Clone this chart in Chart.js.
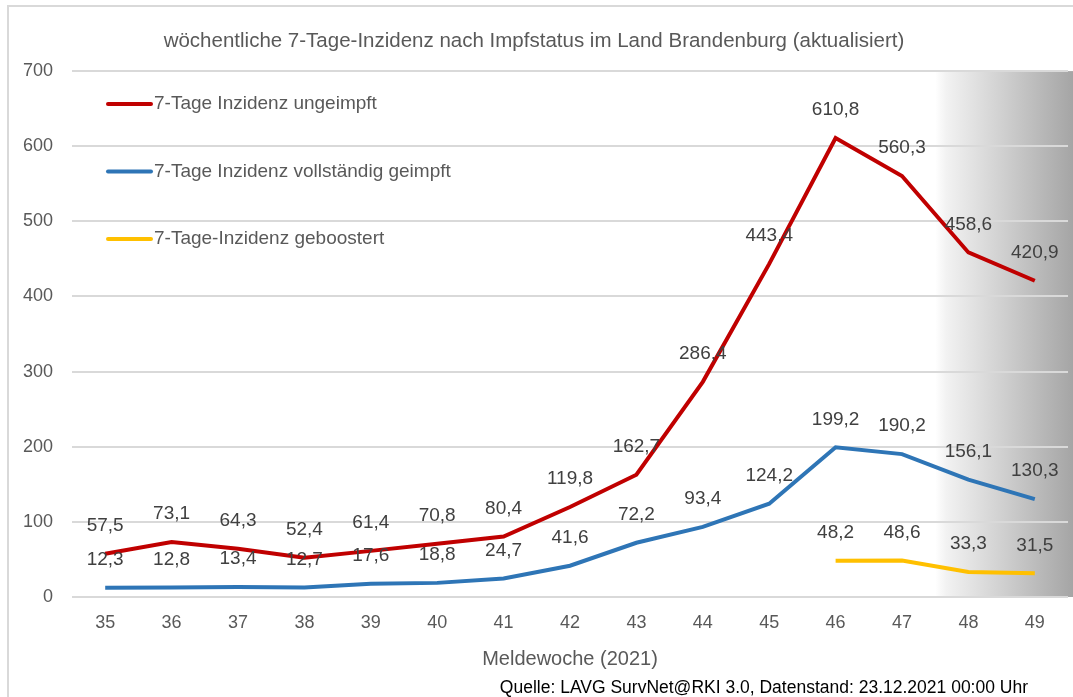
<!DOCTYPE html>
<html>
<head>
<meta charset="utf-8">
<script src="https://cdn.jsdelivr.net/npm/chart.js@4"></script>
<style>
  html, body { margin: 0; padding: 0; background: #fff; }
  #wrap { position: relative; width: 1073px; height: 697px; }
</style>
</head>
<body>
<div id="wrap"><canvas id="chart" width="1073" height="697"></canvas></div>
<script>
// Meldewochen (x-axis categories)
const weeks = ['35', '36', '37', '38', '39', '40', '41', '42', '43', '44', '45', '46', '47', '48', '49'];

// 7-Tage-Inzidenz je Impfstatus
const ungeimpft = [57.5, 73.1, 64.3, 52.4, 61.4, 70.8, 80.4, 119.8, 162.7, 286.4, 443.4, 610.8, 560.3, 458.6, 420.9];
const geimpft = [12.3, 12.8, 13.4, 12.7, 17.6, 18.8, 24.7, 41.6, 72.2, 93.4, 124.2, 199.2, 190.2, 156.1, 130.3];
const geboostert = [null, null, null, null, null, null, null, null, null, null, null, 48.2, 48.6, 33.3, 31.5];

const yTicks = [0, 100, 200, 300, 400, 500, 600, 700];

const FONT = '"Liberation Sans", Arial, sans-serif';
const TEXT_GREY = '#595959';

// grey shading for the last (not yet complete) weeks
const shadePlugin = {
    id: 'shade',
    beforeDraw(chart) {
        const { ctx, chartArea, scales } = chart;
        const x0 = (scales.x.getPixelForValue(12) + scales.x.getPixelForValue(13)) / 2;
        const x1 = chart.width;
        const g = ctx.createLinearGradient(x0, 0, x1, 0);
        g.addColorStop(0, 'rgba(255,255,255,1)');
        g.addColorStop(0.08, 'rgba(242,242,242,1)');
        g.addColorStop(1, 'rgba(165,165,165,1)');
        ctx.save();
        ctx.fillStyle = g;
        ctx.fillRect(x0, chartArea.top, x1 - x0, chartArea.bottom - chartArea.top);
        ctx.restore();
    }
};

// value labels above every point
const labelPlugin = {
    id: 'valueLabels',
    afterDatasetsDraw(chart) {
        const ctx = chart.ctx;
        ctx.save();
        ctx.font = '19px ' + FONT;
        ctx.fillStyle = '#404040';
        ctx.textAlign = 'center';
        ctx.textBaseline = 'middle';
        chart.data.datasets.forEach((ds, i) => {
            const meta = chart.getDatasetMeta(i);
            meta.data.forEach((pt, j) => {
                const v = ds.data[j];
                if (v === null) return;
                ctx.fillText(v.toFixed(1).replace('.', ','), pt.x, pt.y - 28);
            });
        });
        ctx.restore();
    }
};

// legend inside the plot area, footer note and frame
const extrasPlugin = {
    id: 'extras',
    afterDraw(chart) {
        const { ctx, chartArea } = chart;
        ctx.save();
        // legend
        ctx.font = '19px ' + FONT;
        ctx.textBaseline = 'middle';
        ctx.textAlign = 'left';
        chart.data.datasets.forEach((ds, i) => {
            const y = chartArea.top + 33 + i * 67.5;
            const x = chartArea.left + 36;
            ctx.strokeStyle = ds.borderColor;
            ctx.lineWidth = 4;
            ctx.lineCap = 'round';
            ctx.beginPath();
            ctx.moveTo(x, y);
            ctx.lineTo(x + 43, y);
            ctx.stroke();
            ctx.fillStyle = TEXT_GREY;
            ctx.fillText(ds.label, x + 46, y);
        });
        // source note
        ctx.font = '17.5px ' + FONT;
        ctx.fillStyle = '#000';
        ctx.textAlign = 'right';
        ctx.fillText('Quelle: LAVG SurvNet@RKI 3.0, Datenstand: 23.12.2021 00:00 Uhr', 1028, 688);
        // frame
        ctx.strokeStyle = '#d9d9d9';
        ctx.lineWidth = 2;
        ctx.beginPath();
        ctx.moveTo(8, chart.height);
        ctx.lineTo(8, 6);
        ctx.lineTo(chart.width, 6);
        ctx.stroke();
        ctx.restore();
    }
};

const ctx = document.getElementById('chart');
new Chart(ctx, {
    type: 'line',
    data: {
        labels: weeks,
        datasets: [
            {
                label: '7-Tage Inzidenz ungeimpft',
                data: ungeimpft,
                borderColor: '#C00000',
                borderWidth: 4,
                pointRadius: 0,
                tension: 0
            },
            {
                label: '7-Tage Inzidenz vollständig geimpft',
                data: geimpft,
                borderColor: '#2E75B6',
                borderWidth: 4,
                pointRadius: 0,
                tension: 0
            },
            {
                label: '7-Tage-Inzidenz geboostert',
                data: geboostert,
                borderColor: '#FFC000',
                borderWidth: 4,
                pointRadius: 0,
                tension: 0
            }
        ]
    },
    options: {
        responsive: false,
        animation: false,
        layout: { padding: { top: 0, left: 0, right: 5, bottom: 0 } },
        plugins: {
            legend: { display: false },
            tooltip: { enabled: false },
            title: {
                display: true,
                text: 'wöchentliche 7-Tage-Inzidenz nach Impfstatus im Land Brandenburg (aktualisiert)',
                color: TEXT_GREY,
                font: { family: FONT, size: 20.5, weight: 'normal' },
                padding: { top: 29, bottom: 17.5 }
            }
        },
        scales: {
            x: {
                offset: true,
                grid: { display: false, drawTicks: false },
                border: { display: false },
                ticks: { color: TEXT_GREY, font: { family: FONT, size: 18 }, padding: 15, maxRotation: 0 },
                title: {
                    display: true,
                    text: 'Meldewoche (2021)',
                    color: TEXT_GREY,
                    font: { family: FONT, size: 20 },
                    padding: { top: 0, bottom: 26 }
                },
                afterFit(scale) { scale.height = 100; }
            },
            y: {
                min: 0,
                max: 700,
                afterBuildTicks(scale) { scale.ticks = yTicks.map(v => ({ value: v })); },
                grid: { color: '#d9d9d9', lineWidth: 2, drawTicks: false },
                border: { display: false },
                ticks: { color: TEXT_GREY, font: { family: FONT, size: 18 }, padding: 19 },
                afterFit(scale) { scale.width = 72; }
            }
        }
    },
    plugins: [shadePlugin, labelPlugin, extrasPlugin]
});
</script>
</body>
</html>
